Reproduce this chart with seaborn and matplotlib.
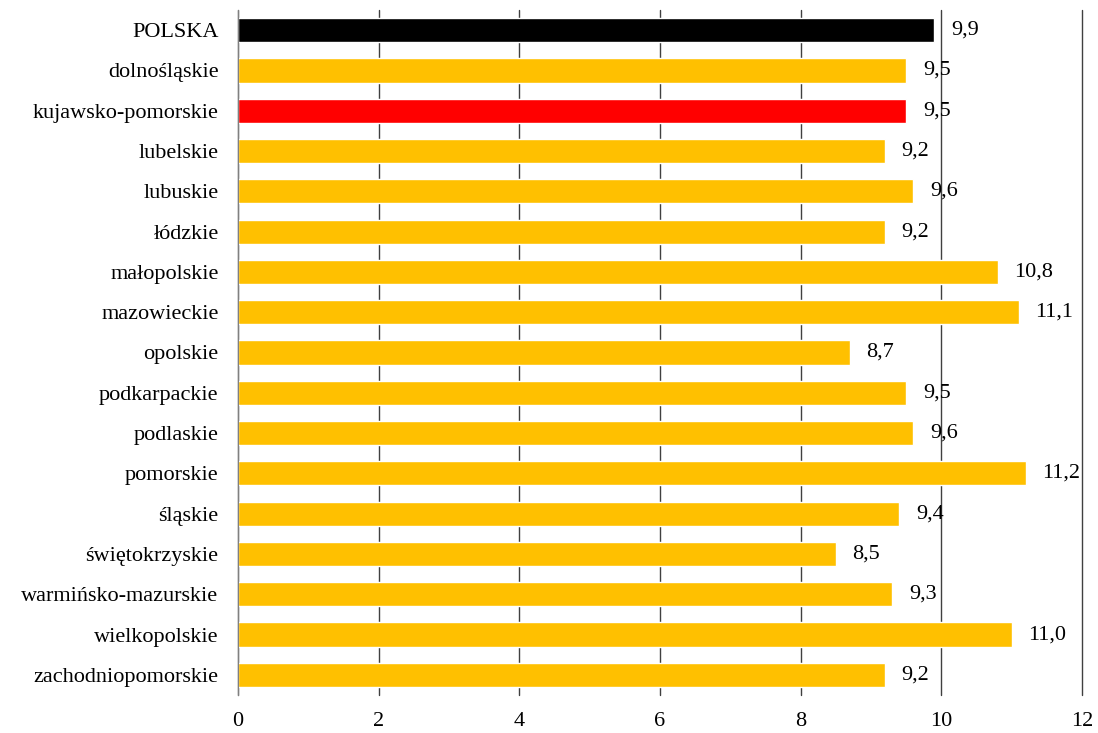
import numpy as np
import pandas as pd
import seaborn as sns
import matplotlib.pyplot as plt

regions = ["POLSKA", "dolnośląskie", "kujawsko-pomorskie", "lubelskie", "lubuskie",
           "łódzkie", "małopolskie", "mazowieckie", "opolskie", "podkarpackie",
           "podlaskie", "pomorskie", "śląskie", "świętokrzyskie",
           "warmińsko-mazurskie", "wielkopolskie", "zachodniopomorskie"]
values = [9.9, 9.5, 9.5, 9.2, 9.6, 9.2, 10.8, 11.1, 8.7, 9.5,
          9.6, 11.2, 9.4, 8.5, 9.3, 11.0, 9.2]

df = pd.DataFrame({"region": regions, "value": values})
colors = {r: "#FFC000" for r in regions}
colors["POLSKA"] = "#000000"
colors["kujawsko-pomorskie"] = "#FF0000"

sns.set_style("white")
plt.rcParams['font.family'] = ['Liberation Serif', 'DejaVu Serif']
plt.rcParams['text.color'] = 'black'
plt.rcParams['xtick.color'] = 'black'
plt.rcParams['ytick.color'] = 'black'

fig = plt.figure(figsize=(10.98, 7.33), dpi=100)
ax = fig.add_axes([0.2168, 0.0518, 0.7686, 0.9346])
sns.barplot(data=df, y="region", x="value", hue="region", palette=colors,
            orient="h", width=0.6, legend=False, saturation=1, ax=ax)

for c in ax.containers:
    ax.bar_label(c, labels=[f"{v:.1f}".replace(".", ",") for v in c.datavalues],
                 padding=12, fontsize=16, color="black")

ax.set_xlim(0, 12)
ax.set_ylim(16.5, -0.5)
ax.set_xticks(range(0, 13, 2))
ax.xaxis.grid(True, color="#404040", linewidth=1)
for gl in ax.get_xgridlines():
    gl.set_clip_on(False)
ax.set_axisbelow(True)
ax.tick_params(axis="both", length=0, labelsize=16, labelcolor="black")
ax.tick_params(axis="x", pad=12)
ax.tick_params(axis="y", pad=14)
ax.set_xlabel("")
ax.set_ylabel("")
for s in ["top", "right", "bottom"]:
    ax.spines[s].set_visible(False)
ax.spines["left"].set_color("#808080")
ax.spines["left"].set_zorder(3)

fig.savefig("out.png", dpi=100)
